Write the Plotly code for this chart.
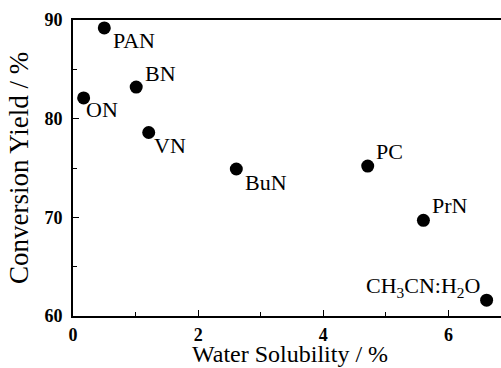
import plotly.graph_objects as go

solvents = ["PAN", "BN", "ON", "VN", "BuN", "PC", "PrN", "CH<sub>3</sub>CN:H<sub>2</sub>O"]
water_solubility = [0.50, 1.01, 0.17, 1.21, 2.61, 4.71, 5.60, 6.61]
conversion_yield = [89.2, 83.2, 82.1, 78.6, 74.9, 75.2, 69.7, 61.6]
x_title = "Water Solubility / %"
y_title = "Conversion Yield / %"

# label placement (style only)
label_pos = [
    dict(xanchor="left", yanchor="top", xshift=7, yshift=2),
    dict(xanchor="left", yanchor="bottom", xshift=7, yshift=-1),
    dict(xanchor="left", yanchor="top", xshift=0, yshift=3),
    dict(xanchor="left", yanchor="top", xshift=3, yshift=1),
    dict(xanchor="left", yanchor="top", xshift=7, yshift=1),
    dict(xanchor="left", yanchor="bottom", xshift=6, yshift=0),
    dict(xanchor="left", yanchor="bottom", xshift=7, yshift=0),
    dict(xanchor="right", yanchor="bottom", xshift=-5, yshift=-3),
]

SERIF = "Liberation Serif"

fig = go.Figure()
fig.add_trace(go.Scatter(
    x=water_solubility, y=conversion_yield, mode="markers",
    marker=dict(size=13, color="black"), showlegend=False, hoverinfo="skip",
))

for name, x, y, p in zip(solvents, water_solubility, conversion_yield, label_pos):
    fig.add_annotation(x=x, y=y, text=name, showarrow=False,
                       font=dict(family=SERIF, size=22, color="black"), **p)

# x-axis title placed precisely below the tick labels
fig.add_annotation(x=0.5, y=0, xref="paper", yref="paper", text=x_title,
                   showarrow=False, xanchor="center", yanchor="top",
                   xshift=3, yshift=-23,
                   font=dict(family=SERIF, size=24, color="black"))

axis_common = dict(
    showgrid=False, zeroline=False, showline=True, linecolor="black", linewidth=2,
    ticks="inside", ticklen=6, tickwidth=1.3, tickcolor="black",
    tickfont=dict(family=SERIF, size=18, color="black", weight="bold"),
    minor=dict(ticks="inside", ticklen=4, tickcolor="black", tickwidth=1.2),
    automargin=False,
)

fig.update_xaxes(**axis_common, range=[0, 6.84], tickvals=[0, 2, 4, 6],
                 minor_tickvals=[1, 3, 5], mirror=True, ticklabelstandoff=1)
fig.update_yaxes(**axis_common, range=[60, 90], tickvals=[60, 70, 80, 90],
                 minor_tickvals=[65, 75, 85], ticklabelstandoff=5,
                 title=dict(text=y_title, standoff=8,
                            font=dict(family=SERIF, size=27, color="black")))

fig.update_layout(
    width=501, height=368, margin=dict(l=73, r=0, t=20, b=52),
    plot_bgcolor="white", paper_bgcolor="white",
)
fig.write_html("out.html")
